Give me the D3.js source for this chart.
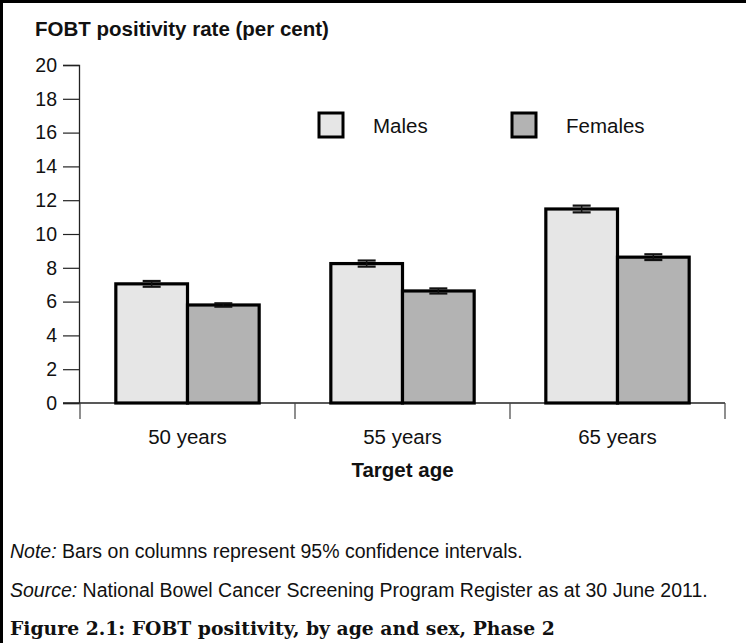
<!DOCTYPE html>
<html>
<head>
<meta charset="utf-8">
<script src="https://cdn.jsdelivr.net/npm/d3@7"></script>
<style>
  body { margin: 0; background: #fff; }
  svg text { font-family: "Liberation Sans", Arial, sans-serif; fill: #111; }
</style>
</head>
<body>
<svg id="chart" width="746" height="643"></svg>
<script>
var width = 746;
var height = 643;

// data
var ages = ["50 years", "55 years", "65 years"];
var sexes = ["Males", "Females"];
var males = [7.05, 8.25, 11.48];
var females = [5.8, 6.63, 8.63];
var malesCI = [0.17, 0.18, 0.2];
var femalesCI = [0.1, 0.15, 0.17];
var yTicks = [0, 2, 4, 6, 8, 10, 12, 14, 16, 18, 20];

// fill for each sex
var fillColor = {"Males": "#e6e6e6", "Females": "#b3b3b3"};

var svg = d3.select("#chart");

// frame (only top and left are in the crop)
svg.append("line").attr("x1", 1.5).attr("x2", 1.5).attr("y1", 0).attr("y2", height)
  .attr("stroke", "#000").attr("stroke-width", 3);
svg.append("line").attr("x1", 0).attr("x2", width).attr("y1", 1.5).attr("y2", 1.5)
  .attr("stroke", "#000").attr("stroke-width", 3);

var y = d3.scaleLinear().domain([0, 20]).range([403, 65]);

var x0 = d3.scaleBand().domain(ages).range([80, 725]);

var x1 = d3.scaleBand().domain(sexes).range([0, x0.bandwidth()]).paddingOuter(0.5);

// build rows for drawing
var rows = [];
ages.forEach(function(a, i) {
  rows.push({age: a, sex: "Males", value: males[i], ci: malesCI[i]});
  rows.push({age: a, sex: "Females", value: females[i], ci: femalesCI[i]});
});

// y axis
var yAxis = d3.axisLeft(y).tickValues(yTicks).tickSize(16).tickPadding(6);
var gy = svg.append("g").attr("transform", "translate(79,0)").call(yAxis);
gy.select(".domain").attr("stroke", "#222").attr("stroke-width", 1.3);
gy.selectAll(".tick line").attr("stroke", "#222").attr("stroke-width", 1.2);
gy.selectAll(".tick text").style("font-size", "19.5px").attr("fill", "#111")
  .style("font-family", "Liberation Sans, Arial, sans-serif");

// x axis with ticks at the band edges
var gx = svg.append("g");
gx.append("line").attr("x1", 63).attr("x2", 725).attr("y1", 403).attr("y2", 403)
  .attr("stroke", "#222").attr("stroke-width", 1.5);
var edges = ages.map(function(a) { return x0(a); }).concat([x0.range()[1]]);
gx.selectAll("line.edge").data(edges).enter().append("line")
  .attr("class", "edge")
  .attr("x1", function(d) { return d; }).attr("x2", function(d) { return d; })
  .attr("y1", 403).attr("y2", 419)
  .attr("stroke", "#444").attr("stroke-width", 1.2);
gx.selectAll("text").data(ages).enter().append("text")
  .attr("x", function(d) { return x0(d) + x0.bandwidth() / 2; })
  .attr("y", 444)
  .attr("text-anchor", "middle")
  .style("font-size", "20.5px")
  .text(function(d) { return d; });

svg.append("text").attr("x", x0(ages[1]) + x0.bandwidth() / 2).attr("y", 477)
  .attr("text-anchor", "middle").style("font-size", "20.5px").style("font-weight", "bold")
  .text("Target age");

// y title
svg.append("text").attr("x", 35).attr("y", 36)
  .style("font-size", "20.5px").style("font-weight", "bold")
  .text("FOBT positivity rate (per cent)");

// bars
svg.append("g").selectAll("rect").data(rows).enter().append("rect")
  .attr("x", function(d) { return x0(d.age) + x1(d.sex); })
  .attr("y", function(d) { return y(d.value); })
  .attr("width", x1.bandwidth())
  .attr("height", function(d) { return y(0) - y(d.value); })
  .attr("fill", function(d) { return fillColor[d.sex]; })
  .attr("stroke", "#000")
  .attr("stroke-width", 3.2);

// error bars
var eb = svg.append("g").selectAll("g").data(rows).enter().append("g")
  .attr("transform", function(d) {
    return "translate(" + (x0(d.age) + x1(d.sex) + x1.bandwidth() / 2) + ",0)";
  });
eb.append("line").attr("x1", 0).attr("x2", 0)
  .attr("y1", function(d) { return y(d.value + d.ci); })
  .attr("y2", function(d) { return y(d.value - d.ci); })
  .attr("stroke", "#111").attr("stroke-width", 1.5);
eb.append("line").attr("x1", -9).attr("x2", 9)
  .attr("y1", function(d) { return y(d.value + d.ci); })
  .attr("y2", function(d) { return y(d.value + d.ci); })
  .attr("stroke", "#111").attr("stroke-width", 2.2);
eb.append("line").attr("x1", -9).attr("x2", 9)
  .attr("y1", function(d) { return y(d.value - d.ci); })
  .attr("y2", function(d) { return y(d.value - d.ci); })
  .attr("stroke", "#111").attr("stroke-width", 2.2);

// legend
var legend = svg.append("g").selectAll("g").data(sexes).enter().append("g")
  .attr("transform", function(d, i) { return "translate(319," + 113 + ") translate(" + (i * 193) + ",0)"; });
legend.append("rect").attr("width", 24).attr("height", 24)
  .attr("fill", function(d) { return fillColor[d]; })
  .attr("stroke", "#000").attr("stroke-width", 3);
legend.append("text").attr("x", 54).attr("y", 20)
  .style("font-size", "20.5px")
  .text(function(d) { return d; });

// notes
var note = svg.append("text").attr("x", 10).attr("y", 558).style("font-size", "19.5px");
note.append("tspan").style("font-style", "italic").text("Note:");
note.append("tspan").text(" Bars on columns represent 95% confidence intervals.");

var src = svg.append("text").attr("x", 10).attr("y", 597).style("font-size", "19.5px");
src.append("tspan").style("font-style", "italic").text("Source:");
src.append("tspan").text(" National Bowel Cancer Screening Program Register as at 30 June 2011.");

svg.append("text").attr("x", 10).attr("y", 635)
  .style("font-family", "'DejaVu Serif', 'Liberation Serif', serif")
  .style("font-size", "18.8px").style("font-weight", "bold")
  .text("Figure 2.1: FOBT positivity, by age and sex, Phase 2");
</script>
</body>
</html>
